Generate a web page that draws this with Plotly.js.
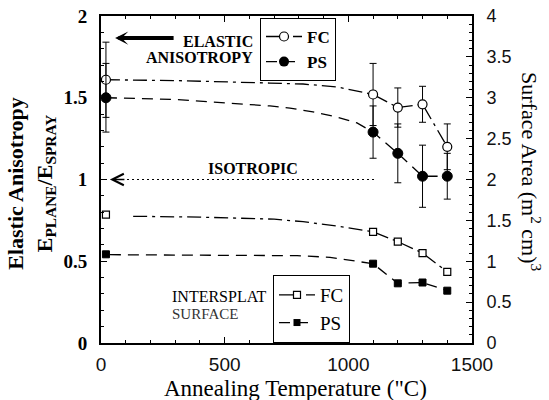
<!DOCTYPE html>
<html><head><meta charset="utf-8">
<script src="https://cdn.plot.ly/plotly-3.0.1.min.js"></script>
<style>html,body{margin:0;padding:0;background:#fff}#chart{width:549px;height:400px}</style>
</head><body><div id="chart"></div>
<script>
// measured points
const tempPoints = [20, 1100, 1200, 1300, 1400];
const elasticFC = [1.61, 1.52, 1.44, 1.46, 1.20];
const elasticFCErr = [0.23, 0.19, 0.12, 0.11, 0.14];
const elasticPS = [1.50, 1.29, 1.16, 1.02, 1.02];
const elasticPSErr = [0.21, 0.16, 0.18, 0.19, 0.14];
const surfaceFC = [1.57, 1.36, 1.24, 1.10, 0.87];
const surfacePS = [1.085, 0.97, 0.73, 0.74, 0.64];

// guide curves
const elasticFCCurveT = [20, 300, 683, 817, 954, 1035, 1100, 1200, 1300, 1400];
const elasticFCCurve  = [1.61, 1.605, 1.59, 1.584, 1.566, 1.54, 1.52, 1.44, 1.46, 1.20];
const elasticPSCurveT = [20, 300, 683, 764, 857, 954, 1035, 1100, 1200, 1300, 1400];
const elasticPSCurve  = [1.50, 1.49, 1.45, 1.437, 1.413, 1.382, 1.346, 1.29, 1.16, 1.02, 1.02];
const surfaceFCCurveT = [130, 400, 700, 817, 954, 1060, 1100, 1200, 1300, 1400];
const surfaceFCCurve  = [1.55, 1.54, 1.515, 1.484, 1.43, 1.38, 1.36, 1.24, 1.10, 0.87];
const surfacePSCurveT = [36, 700, 793, 926, 1007, 1047, 1100, 1200, 1300, 1400];
const surfacePSCurve  = [1.08, 1.076, 1.068, 1.048, 1.015, 0.99, 0.97, 0.73, 0.74, 0.64];

const isotropicLevel = 1;
const isotropicFrom = 85, isotropicTo = 1108;
const legendNames = ['FC', 'PS'];

const SERIF = 'Liberation Serif, Times New Roman, serif';
const SANS = 'Liberation Sans, Arial, sans-serif';
const DASHDOT = '14px,5px,3px,5px';
const DASH = '11px,7px';

const traces = [
  {x: elasticFCCurveT, y: elasticFCCurve, mode: 'lines', line: {color: '#000', width: 1.3, dash: DASHDOT}, showlegend: false, hoverinfo: 'skip'},
  {x: elasticPSCurveT, y: elasticPSCurve, mode: 'lines', line: {color: '#000', width: 1.3, dash: DASH}, showlegend: false, hoverinfo: 'skip'},
  {x: surfaceFCCurveT, y: surfaceFCCurve, yaxis: 'y2', mode: 'lines', line: {color: '#000', width: 1.3, dash: DASHDOT}, showlegend: false, hoverinfo: 'skip'},
  {x: surfacePSCurveT, y: surfacePSCurve, yaxis: 'y2', mode: 'lines', line: {color: '#000', width: 1.3, dash: DASH}, showlegend: false, hoverinfo: 'skip'},
  {x: tempPoints, y: elasticFC, mode: 'markers', showlegend: false,
   error_y: {type: 'data', array: elasticFCErr, color: '#000', thickness: 1, width: 3.5},
   marker: {symbol: 'circle', size: 9, color: '#fff', line: {color: '#000', width: 1.2}}},
  {x: tempPoints, y: elasticPS, mode: 'markers', showlegend: false,
   error_y: {type: 'data', array: elasticPSErr, color: '#000', thickness: 1, width: 3.5},
   marker: {symbol: 'circle', size: 10, color: '#000', line: {color: '#000', width: 1}}},
  {x: tempPoints, y: surfaceFC, yaxis: 'y2', mode: 'markers', showlegend: false,
   marker: {symbol: 'square', size: 7, color: '#fff', line: {color: '#000', width: 1.2}}},
  {x: tempPoints, y: surfacePS, yaxis: 'y2', mode: 'markers', showlegend: false,
   marker: {symbol: 'square', size: 7, color: '#000', line: {color: '#000', width: 1}}},
  {x: [null], y: [null], name: legendNames[0], mode: 'lines+markers', legend: 'legend',
   line: {color: '#000', width: 1.3, dash: DASHDOT}, marker: {symbol: 'circle', size: 9, color: '#fff', line: {color: '#000', width: 1.2}}},
  {x: [null], y: [null], name: legendNames[1], mode: 'lines+markers', legend: 'legend',
   line: {color: '#000', width: 1.3, dash: DASH}, marker: {symbol: 'circle', size: 10, color: '#000'}},
  {x: [null], y: [null], name: legendNames[0], mode: 'lines+markers', legend: 'legend2', yaxis: 'y2',
   line: {color: '#000', width: 1.3, dash: DASHDOT}, marker: {symbol: 'square', size: 7, color: '#fff', line: {color: '#000', width: 1.2}}},
  {x: [null], y: [null], name: legendNames[1], mode: 'lines+markers', legend: 'legend2', yaxis: 'y2',
   line: {color: '#000', width: 1.3, dash: DASH}, marker: {symbol: 'square', size: 7, color: '#000'}}
];

const axisCommon = {
  showgrid: false, zeroline: false, showline: true, linecolor: '#000', linewidth: 2,
  ticks: 'inside', ticklen: 6, tickwidth: 1.2, tickcolor: '#000'
};

const layout = {
  width: 549, height: 400,
  margin: {l: 101, r: 77, t: 16, b: 57, pad: 0},
  paper_bgcolor: '#fff', plot_bgcolor: '#fff',
  showlegend: true,
  xaxis: Object.assign({}, axisCommon, {
    range: [0, 1500], tick0: 0, dtick: 500, mirror: 'ticks',
    minor: {dtick: 100, ticks: 'inside', ticklen: 3, tickwidth: 1, tickcolor: '#000'},
    tickfont: {family: SANS, size: 19, color: '#111'}, ticklabelstandoff: 3
  }),
  yaxis: Object.assign({}, axisCommon, {
    range: [0, 2], tick0: 0, dtick: 0.5,
    minor: {dtick: 0.1, ticks: 'inside', ticklen: 3, tickwidth: 1, tickcolor: '#000'},
    tickfont: {family: SERIF, size: 19, color: '#000', weight: 'bold'}, ticklabelstandoff: 8
  }),
  yaxis2: Object.assign({}, axisCommon, {
    range: [0, 4], tick0: 0, dtick: 0.5, overlaying: 'y', side: 'right',
    minor: {dtick: 0.1, ticks: 'inside', ticklen: 3, tickwidth: 1, tickcolor: '#000'},
    tickfont: {family: SANS, size: 18, color: '#111'}, ticklabelstandoff: 9
  }),
  legend: {
    x: 0.4286, y: 0.994, xanchor: 'left', yanchor: 'top',
    bgcolor: '#fff', bordercolor: '#000', borderwidth: 1, itemwidth: 36, tracegroupgap: 0,
    font: {family: SERIF, size: 17, color: '#000', weight: 'bold'}
  },
  legend2: {
    x: 0.4636, y: 0.208, xanchor: 'left', yanchor: 'top',
    bgcolor: '#fff', bordercolor: '#000', borderwidth: 1, itemwidth: 36, tracegroupgap: 0,
    font: {family: SERIF, size: 19, color: '#000'}
  },
  shapes: [
    {type: 'line', xref: 'x', yref: 'y', x0: isotropicFrom, x1: isotropicTo, y0: isotropicLevel, y1: isotropicLevel,
     line: {color: '#000', width: 1, dash: '2px,3px'}}
  ],
  annotations: [
    {xref: 'x', yref: 'y', x: 57, y: 1.865, ax: 60, ay: 0, text: '', showarrow: true,
     arrowhead: 3, arrowsize: 0.55, arrowwidth: 4, arrowcolor: '#000'},
    {xref: 'x', yref: 'y', x: 623, y: 1.845, text: 'ELASTIC', showarrow: false, xanchor: 'right', yanchor: 'middle',
     font: {family: SERIF, size: 16, color: '#000', weight: 'bold'}},
    {xref: 'x', yref: 'y', x: 623, y: 1.745, text: 'ANISOTROPY', showarrow: false, xanchor: 'right', yanchor: 'middle',
     font: {family: SERIF, size: 16, color: '#000', weight: 'bold'}},
    {xref: 'x', yref: 'y', x: 615, y: 1.07, text: 'ISOTROPIC', showarrow: false, xanchor: 'center', yanchor: 'middle',
     font: {family: SERIF, size: 16, color: '#000', weight: 'bold'}},
    {xref: 'x', yref: 'y', x: 36, y: isotropicLevel, ax: 16, ay: 0, text: '', showarrow: true,
     arrowhead: 5, arrowsize: 1.5, arrowwidth: 1.5, arrowcolor: '#000'},
    {xref: 'x', yref: 'y', x: 277, y: 0.285, text: 'INTERSPLAT', showarrow: false, xanchor: 'left', yanchor: 'middle',
     font: {family: SERIF, size: 16, color: '#000'}},
    {xref: 'x', yref: 'y', x: 277, y: 0.18, text: 'SURFACE', showarrow: false, xanchor: 'left', yanchor: 'middle',
     font: {family: SERIF, size: 15, color: '#333'}},
    {xref: 'paper', yref: 'paper', x: -0.1887, y: 0.49, textangle: -90, xanchor: 'center', yanchor: 'middle', showarrow: false,
     text: 'Elastic Anisotropy<br>E<sub>PLANE</sub>/E<sub>SPRAY</sub>',
     font: {family: SERIF, size: 22, color: '#000', weight: 'bold'}},
    {xref: 'paper', yref: 'paper', x: 1.159, y: 0.523, textangle: 90, xanchor: 'center', yanchor: 'middle', showarrow: false,
     text: 'Surface Area (m<sup>2</sup> cm)<sup>3</sup>',
     font: {family: SERIF, size: 22, color: '#000'}},
    {xref: 'paper', yref: 'paper', x: 0.523, y: -0.138, xanchor: 'center', yanchor: 'middle', showarrow: false,
     text: 'Annealing Temperature ("C)',
     font: {family: SERIF, size: 23, color: '#000'}}
  ]
};

Plotly.newPlot('chart', traces, layout, {displayModeBar: false, staticPlot: true});
</script>
</body></html>
